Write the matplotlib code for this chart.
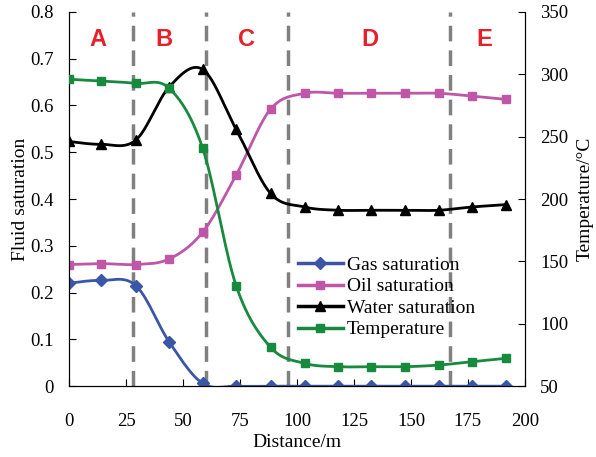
import numpy as np
import matplotlib.pyplot as plt

# Distance of each sampling point (m)
distance = [0, 14, 29.3, 44, 58.6, 73.3, 88.4, 103.3, 118, 132.5, 147.5, 162.2, 176.8, 191.5]

gas_sat = [0.220, 0.226, 0.215, 0.094, 0.006, 0, 0, 0, 0, 0, 0, 0, 0, 0]
oil_sat = [0.260, 0.262, 0.260, 0.272, 0.329, 0.451, 0.592, 0.626, 0.626,
           0.626, 0.626, 0.626, 0.620, 0.613]
water_sat = [0.523, 0.517, 0.526, 0.640, 0.677, 0.549, 0.412, 0.383, 0.376,
             0.376, 0.376, 0.376, 0.383, 0.388]
temperature = [296, 294.6, 292.7, 288.7, 240.9, 130.6, 81.2, 68.3, 65.6,
               65.6, 65.6, 66.9, 69.6, 72.3]

# zone boundaries and zone labels
zone_bounds = [27.9, 60.1, 96.2, 167.2]
zone_names = ['A', 'B', 'C', 'D', 'E']
zone_x = [12.5, 41.5, 78, 132, 182]


def smooth(x, y, n=30):
    # excel-like smoothed line (catmull-rom as bezier)
    x = np.asarray(x, float)
    y = np.asarray(y, float)
    px = np.concatenate([[x[0]], x, [x[-1]]])
    py = np.concatenate([[y[0]], y, [y[-1]]])
    t = np.linspace(0, 1, n)[:, None]
    xs, ys = [], []
    for i in range(1, len(px) - 2):
        p0x, p1x, p2x, p3x = px[i - 1], px[i], px[i + 1], px[i + 2]
        p0y, p1y, p2y, p3y = py[i - 1], py[i], py[i + 1], py[i + 2]
        c1x = p1x + (p2x - p0x) / 6
        c1y = p1y + (p2y - p0y) / 6
        c2x = p2x - (p3x - p1x) / 6
        c2y = p2y - (p3y - p1y) / 6
        bx = (1 - t) ** 3 * p1x + 3 * (1 - t) ** 2 * t * c1x + 3 * (1 - t) * t ** 2 * c2x + t ** 3 * p2x
        by = (1 - t) ** 3 * p1y + 3 * (1 - t) ** 2 * t * c1y + 3 * (1 - t) * t ** 2 * c2y + t ** 3 * p2y
        xs.append(bx.ravel())
        ys.append(by.ravel())
    return np.concatenate(xs), np.concatenate(ys)


plt.rcParams['font.family'] = 'Liberation Serif'
plt.rcParams['font.size'] = 13

fig = plt.figure(figsize=(5.96, 4.57), dpi=100)
ax = fig.add_axes([0.1158, 0.155, 0.765, 0.819])
ax2 = ax.twinx()

for b in zone_bounds:
    ax.axvline(b, color='#808080', lw=2.5, ls=(0, (4.5, 2.6)), zorder=1)

series = [
    (gas_sat, '#3a56a6', 'D', 6, 'Gas saturation'),
    (oil_sat, '#bf56a8', 's', 6, 'Oil saturation'),
    (water_sat, 'black', '^', 7, 'Water saturation'),
]
handles = []
for vals, col, mk, ms, lab in series:
    sx, sy = smooth(distance, vals)
    ax.plot(sx, sy, color=col, lw=2, zorder=3)
    ax.plot(distance, vals, ls='none', marker=mk, ms=ms, color=col, zorder=4)
    h, = ax.plot([], [], color=col, lw=2.5, marker=mk, ms=ms, label=lab)
    handles.append(h)

sx, sy = smooth(distance, temperature)
ax2.plot(sx, sy, color='#178a3e', lw=2, zorder=3)
ax2.plot(distance, temperature, ls='none', marker='s', ms=6, color='#178a3e', zorder=4)
h, = ax.plot([], [], color='#178a3e', lw=2.5, marker='s', ms=6, label='Temperature')
handles.append(h)

for name, zx in zip(zone_names, zone_x):
    ax.text(zx, 0.741, name, color='#e8202a', fontsize=17, fontweight='bold',
            family='Liberation Sans', ha='center', va='center')

ax.set_xlim(0, 200)
ax.set_ylim(0, 0.8)
ax2.set_ylim(50, 350)
ax.set_xticks(np.arange(0, 201, 25))
ax.set_yticks(np.arange(0, 0.81, 0.1))
ax.set_yticklabels(['0'] + [f'{v:.1f}' for v in np.arange(0.1, 0.81, 0.1)])
ax2.set_yticks(np.arange(50, 351, 50))

ax.tick_params(direction='in', length=5, labelsize=13.5)
ax2.tick_params(direction='in', length=5, labelsize=13.5)
ax.tick_params(axis='x', pad=19)
ax.tick_params(axis='y', pad=11)
ax2.tick_params(axis='y', pad=11)
ax.spines['top'].set_visible(False)
ax2.spines['top'].set_visible(False)

ax.set_xlabel('Distance/m', fontsize=14, labelpad=3)
ax.set_ylabel('Fluid saturation', fontsize=14, labelpad=1)
ax2.set_ylabel('Temperature/°C', fontsize=14, labelpad=6)

ax.legend(handles=handles, loc='upper left', bbox_to_anchor=(0.502, 0.347),
          frameon=False, fontsize=14, handlelength=2.3, handletextpad=0.2,
          labelspacing=0.2, borderaxespad=0, borderpad=0)

fig.savefig('out.png', dpi=100)
